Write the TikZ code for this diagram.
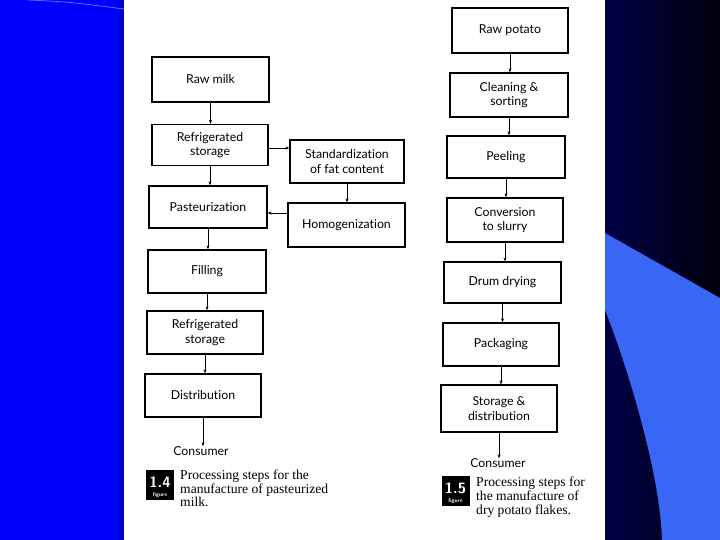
\documentclass[tikz,border=0pt]{standalone}
\usepackage{fontspec}
\setmainfont{Liberation Serif}
\newfontfamily\boxfont[Ligatures=NoCommon]{Lato}
\usetikzlibrary{arrows.meta,calc}
\definecolor{bgblue}{RGB}{0,0,255}
\definecolor{stripblue}{RGB}{0,0,205}
\definecolor{navyL}{RGB}{0,0,70}
\definecolor{navyR}{RGB}{0,0,12}
\definecolor{lightblue}{RGB}{58,102,246}
\definecolor{lineblue}{RGB}{70,120,255}
\begin{document}
\begin{tikzpicture}[x=1pt,y=-1pt,
  procbox/.style={draw=black, line width=1.3pt, inner sep=0pt, align=center,
    font=\boxfont\fontsize{12.3}{14.5}\selectfont, minimum width=117pt, minimum height=43pt},
  endtext/.style={inner sep=0pt, font=\boxfont\fontsize{12.3}{14.5}\selectfont},
  arr/.style={line width=0.6pt, -{Stealth[length=4pt,width=3pt]}},
  badge/.style={fill=black, minimum width=28pt, minimum height=30pt, inner sep=0pt},
  captext/.style={anchor=north west, inner sep=0pt, align=left, font=\fontsize{13.6}{13.8}\selectfont}]
\useasboundingbox (0,0) rectangle (720,540);
% background
\fill[bgblue] (0,0) rectangle (124,540);
\fill[stripblue] (119,0) rectangle (124,540);
\draw[lineblue, line width=0.8pt] (28,0) .. controls (70,2) .. (124,9);
\fill[white] (124,0) rectangle (605,540);
\shade[left color=navyL, right color=navyR] (605,0) rectangle (720,540);
\fill[lightblue] (605,233) -- (720,298) -- (720,540) -- (662,540) .. controls (660,470) and (625,360) .. (605,310) -- cycle;
% left chain
\node[procbox, minimum width=117pt, minimum height=45pt] (rm) at (210.5,79.5) {Raw milk};
\node[procbox, minimum width=116pt, minimum height=41pt] (rs) at (210,145) {Refrigerated\\storage};
\node[procbox, minimum width=114pt, minimum height=43pt] (st) at (347,161.5) {Standardization\\of fat content};
\node[procbox, minimum width=118pt, minimum height=42pt] (pa) at (208,207) {Pasteurization};
\node[procbox, minimum width=117pt, minimum height=44pt] (ho) at (346.5,225) {Homogenization};
\node[procbox, minimum width=118pt, minimum height=43pt] (fi) at (207,271.5) {Filling};
\node[procbox, minimum width=116pt, minimum height=43pt] (rs2) at (205,332.5) {Refrigerated\\storage};
\node[procbox, minimum width=116pt, minimum height=43pt] (di) at (203,395.5) {Distribution};
\node[endtext] (co1) at (201,451) {Consumer};
\draw[arr] (rm.south) -- (rm.south |- rs.north);
\draw[arr] (rs.south) -- (rs.south |- pa.north);
\draw[arr] (pa.south) -- (pa.south |- fi.north);
\draw[arr] (fi.south) -- (fi.south |- rs2.north);
\draw[arr] (rs2.south) -- (rs2.south |- di.north);
\draw[arr] (di.south) -- (di.south |- co1.north);
\draw[arr] ($(rs.east)+(0,3)$) -- ($(rs.east -| st.west)+(0,3)$);
\draw[arr] (st.south) -- (st.south |- ho.north);
\draw[arr] ($(ho.west |- pa.east)+(0,6)$) -- ($(pa.east)+(0,6)$);
% left caption
\node[badge] (b14) at (160,485) {};
\node[text=white, inner sep=0pt, font=\sffamily\bfseries\fontsize{15}{15}\selectfont] (b14n) at ($(b14.center)+(0,-3)$) {1.4};
\node[text=white, inner sep=0pt, font=\sffamily\bfseries\fontsize{5.5}{6}\selectfont] (b14f) at ($(b14.center)+(0,10.5)$) {figure};
\node[captext] (cap14) at (180,469.5) {Processing steps for the\\manufacture of pasteurized\\milk.};
% right chain
\node[procbox, minimum width=116pt, minimum height=45pt] (rp) at (510,30.5) {Raw potato};
\node[procbox, minimum width=118pt, minimum height=44pt] (cs) at (509,95) {Cleaning \&\\sorting};
\node[procbox, minimum width=118pt, minimum height=42pt] (pe) at (506,157) {Peeling};
\node[procbox, minimum width=116pt, minimum height=44pt] (cv) at (505,220) {Conversion\\to slurry};
\node[procbox, minimum width=117pt, minimum height=41pt] (dd) at (502.5,282.5) {Drum drying};
\node[procbox, minimum width=116pt, minimum height=43pt] (pk) at (501,344.5) {Packaging};
\node[procbox, minimum width=116pt, minimum height=47pt] (sd) at (499,408.5) {Storage \&\\distribution};
\node[endtext] (co2) at (498,463) {Consumer};
\draw[arr] (rp.south) -- (rp.south |- cs.north);
\draw[arr] (cs.south) -- (cs.south |- pe.north);
\draw[arr] (pe.south) -- (pe.south |- cv.north);
\draw[arr] (cv.south) -- (cv.south |- dd.north);
\draw[arr] (dd.south) -- (dd.south |- pk.north);
\draw[arr] (pk.south) -- (pk.south |- sd.north);
\draw[arr] (sd.south) -- (sd.south |- co2.north);
% right caption
\node[badge] (b15) at (455.5,491) {};
\node[text=white, inner sep=0pt, font=\sffamily\bfseries\fontsize{15}{15}\selectfont] (b15n) at ($(b15.center)+(0,-3)$) {1.5};
\node[text=white, inner sep=0pt, font=\sffamily\bfseries\fontsize{5.5}{6}\selectfont] (b15f) at ($(b15.center)+(0,10.5)$) {figure};
\node[captext] (cap15) at (476,477) {Processing steps for\\the manufacture of\\dry potato flakes.};
\end{tikzpicture}
\end{document}
